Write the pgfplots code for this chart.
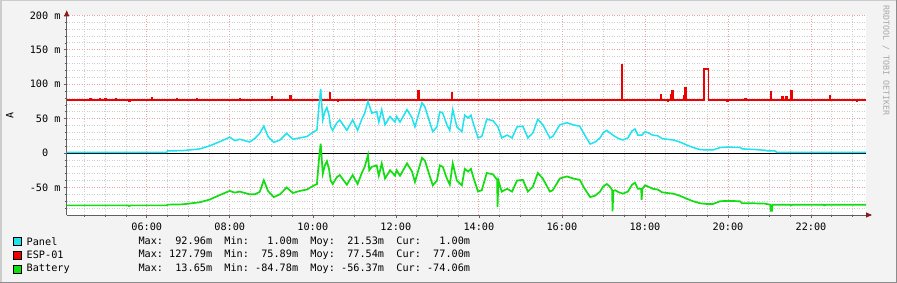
\documentclass[border=0pt]{standalone}
\usepackage{pgfplots}
\pgfplotsset{compat=1.18}
\usepackage{fontspec}
\setmainfont{DejaVu Sans Mono}
\usetikzlibrary{arrows.meta}
\definecolor{bgc}{HTML}{F3F3F3}
\definecolor{panelc}{HTML}{1DE3EF}
\definecolor{espc}{HTML}{EE0000}
\definecolor{batc}{HTML}{11DD11}
\definecolor{mgridc}{HTML}{E9A5A5}
\definecolor{ngridc}{HTML}{CDCDCD}
\definecolor{arrowc}{HTML}{8B1A1A}
\definecolor{axc}{HTML}{606060}
\definecolor{wmc}{HTML}{A8A8A8}
\newcommand{\fs}{\fontsize{10.2bp}{12bp}\selectfont}

\pgfplotstableread{
h v
4.07 1.0
6.48 1.0
6.50 3
6.87 3.5
7.28 6
7.52 10.5
7.76 16.5
8.00 23
8.12 18
8.24 20
8.48 16
8.60 21
8.72 28.5
8.82 39
8.92 24
9.06 15.5
9.21 19
9.37 28.5
9.52 20
9.69 22
9.86 24
10.00 30
10.10 33.5
10.15 70
10.19 93
10.24 48
10.29 60
10.34 66
10.39 55
10.43 38
10.48 33
10.58 44
10.65 48
10.82 33
10.96 48
11.08 33
11.18 49
11.25 58
11.33 75
11.42 58
11.54 60
11.59 45
11.66 63
11.74 41
11.86 53
11.98 45
12.02 53
12.10 45
12.27 63
12.39 51
12.46 38
12.63 73
12.70 67
12.82 44
12.89 31
12.99 38
13.06 60
13.13 58
13.23 41
13.30 33
13.37 63
13.47 38
13.59 31
13.66 55
13.74 51
13.81 55
13.86 44
13.98 22
14.07 24
14.19 49
14.34 47
14.46 38
14.55 22
14.68 26
14.80 22
14.92 38
15.06 39
15.18 22
15.30 29
15.42 49
15.54 41
15.71 22
15.78 24
15.95 41
16.12 44
16.27 41
16.43 39
16.55 26
16.68 13
16.80 16
16.92 22
16.99 29
17.08 33
17.16 29
17.28 24
17.37 21
17.47 19
17.59 22
17.69 32
17.76 35
17.83 26
17.93 26
18.00 31
18.07 29.5
18.19 26
18.31 25
18.41 21
18.53 20
18.68 19
18.84 16
19.01 11.6
19.16 8
19.33 5
19.49 4.4
19.64 4.4
19.81 8
19.98 8.5
20.29 8.2
20.34 6
20.60 5.3
20.89 4
20.95 3
21.13 3
21.18 1.0
23.325 1.0
}\panel

\pgfplotstableread{
h v
4.07 -76
5.55 -76
5.57 -77
5.62 -76
6.48 -76
6.50 -75
6.87 -74.5
7.28 -71.5
7.52 -67.5
7.76 -61
8.00 -55
8.12 -57.5
8.24 -56
8.48 -60
8.60 -60
8.72 -56.5
8.82 -39.5
8.92 -55
9.06 -64
9.21 -60
9.37 -50
9.52 -58
9.69 -55
9.86 -53
10.00 -48
10.10 -45
10.15 -8
10.19 13.6
10.24 -30
10.29 -18
10.34 -12
10.39 -23
10.43 -40
10.48 -45
10.58 -35
10.65 -32
10.82 -46
10.96 -32
11.08 -45
11.18 -29
11.25 -20
11.33 -3
11.36 -25
11.42 -20
11.54 -18
11.59 -33
11.66 -15
11.74 -37
11.86 -25
11.98 -33
12.02 -25
12.10 -33
12.27 -15
12.39 -27
12.46 -42
12.63 -7
12.70 -11
12.82 -34
12.89 -47
12.99 -40
13.06 -18
13.13 -20
13.23 -37
13.30 -46
13.37 -15
13.47 -40
13.59 -47
13.66 -23
13.74 -27
13.81 -23
13.86 -34
13.98 -56
14.07 -54
14.19 -29
14.34 -31
14.44 -39
14.45 -78
14.47 -40
14.55 -56
14.68 -52
14.80 -56
14.92 -40
15.06 -39
15.18 -56
15.30 -49
15.42 -29
15.54 -37
15.71 -56
15.78 -54
15.95 -37
16.12 -34
16.27 -37
16.43 -39
16.55 -52
16.68 -64
16.80 -62
16.92 -56
16.99 -49
17.08 -45
17.16 -49
17.21 -54
17.22 -84.8
17.24 -55
17.28 -54
17.37 -57
17.47 -59
17.59 -56
17.69 -46
17.76 -43
17.83 -52
17.91 -52
17.92 -68
17.94 -52
18.00 -47
18.07 -48.5
18.19 -52
18.31 -53
18.41 -57
18.53 -58
18.68 -59
18.84 -62
19.01 -66.5
19.16 -70
19.33 -73
19.49 -74
19.64 -74
19.81 -70
19.98 -69.5
20.29 -70
20.34 -73
20.60 -73
20.89 -73.5
21.02 -75
21.03 -84
21.06 -84
21.07 -75
21.50 -75
21.52 -76
21.56 -75
22.30 -75
22.32 -76
22.36 -75
23.325 -75
}\battery

\pgfplotstableread{
h v
4.07 77.5
4.64 77.5
4.64 79
4.66 79
4.66 77.5
4.86 77.5
4.86 79
4.88 79
4.88 77.5
5.00 77.5
5.00 79
5.02 79
5.02 77.5
5.25 77.5
5.25 79
5.27 79
5.27 77.5
5.58 77.5
5.58 75.5
5.60 75.5
5.60 77.5
6.12 77.5
6.12 80
6.14 80
6.14 77.5
6.72 77.5
6.72 79
6.74 79
6.74 77.5
7.20 77.5
7.20 79
7.22 79
7.22 77.5
8.24 77.5
8.24 79
8.26 79
8.26 77.5
9.01 77.5
9.01 82
9.03 82
9.03 77.5
9.45 77.5
9.45 83
9.47 83
9.47 77.5
10.40 77.5
10.40 87
10.42 87
10.42 77.5
10.60 77.5
10.60 76
10.62 76
10.62 77.5
12.54 77.5
12.54 90
12.56 90
12.56 77.5
13.34 77.5
13.34 88
13.36 88
13.36 77.5
17.44 77.5
17.44 127.8
17.46 127.8
17.46 77.5
18.38 77.5
18.38 85
18.40 85
18.40 77.5
18.55 77.5
18.55 76
18.57 76
18.57 77.5
18.62 77.5
18.62 84
18.65 84
18.65 90
18.67 90
18.67 77.5
18.94 77.5
18.94 83
18.97 83
18.97 95
18.99 95
18.99 77.5
19.43 77.5
19.43 122.5
19.53 122.5
19.53 77.5
19.98 77.5
19.98 75.5
20.00 75.5
20.00 77.5
20.41 77.5
20.41 79
20.43 79
20.43 77.5
21.03 77.5
21.03 89
21.05 89
21.05 77.5
21.30 77.5
21.30 81
21.32 81
21.32 77.5
21.40 77.5
21.40 81
21.42 81
21.42 77.5
21.52 77.5
21.52 90
21.54 90
21.54 77.5
22.45 77.5
22.45 83
22.47 83
22.47 77.5
23.10 77.5
23.10 76
23.12 76
23.12 77.5
23.325 77.5
}\esp

\begin{document}
\begin{tikzpicture}
\fill[bgc] (0,0) rectangle (897bp,283bp);
\useasboundingbox (0,0) rectangle (897bp,283bp);
\draw[line width=1.5bp, color=black!20] (0.75bp,0) -- (0.75bp,282.25bp) -- (897bp,282.25bp);
\draw[line width=1.5bp, color=black!45] (0,0.75bp) -- (896.25bp,0.75bp) -- (896.25bp,283bp);
\begin{axis}[
  at={(66.7bp,68bp)}, anchor=south west,
  scale only axis, width=799.3bp, height=199.7bp,
  xmin=4.072, xmax=23.325, ymin=-90, ymax=200,
  axis background/.style={fill=white},
  axis lines=left,
  x axis line style={draw=axc, line width=0.8bp, shorten >=-6bp, -{Triangle[length=6bp,width=5bp,color=arrowc]}},
  y axis line style={draw=axc, line width=0.8bp, shorten >=-5bp, -{Triangle[length=6bp,width=5bp,color=arrowc]}},
  xtick={6,8,10,12,14,16,18,20,22},
  xticklabels={06:00,08:00,10:00,12:00,14:00,16:00,18:00,20:00,22:00},
  minor xtick={4.5,5,5.5,6.5,7,7.5,8.5,9,9.5,10.5,11,11.5,12.5,13,13.5,14.5,15,15.5,16.5,17,17.5,18.5,19,19.5,20.5,21,21.5,22.5,23},
  ytick={-50,0,50,100,150,200},
  yticklabels={-50 m,0\phantom{ m},50 m,100 m,150 m,200 m},
  minor ytick={-80,-70,-60,-40,-30,-20,-10,10,20,30,40,60,70,80,90,110,120,130,140,160,170,180,190},
  tick align=outside,
  major tick length=3bp, minor tick length=2bp,
  every tick/.style={axc, line width=0.6bp},
  grid=both,
  major grid style={mgridc, line width=0.8bp, dash pattern=on 1bp off 1.5bp},
  minor grid style={ngridc, line width=0.8bp, dash pattern=on 1bp off 1.5bp},
  tick label style={font=\fs, text=black},
  xticklabel style={yshift=-1bp},
  yticklabel style={anchor=east, inner sep=0pt, xshift=-3bp},
  ylabel={A},
  ylabel style={font=\fs},
  every axis y label/.style={at={(rel axis cs:0,0.5)}, xshift=-57bp, rotate=90, anchor=center},
  clip=true,
]
\addplot[draw=black, line width=1bp] coordinates {(4.072,-0.3) (23.325,-0.3)};
\addplot[draw=espc, color=espc, line width=1.8bp] table[x=h,y=v] {\esp};
\addplot[draw=panelc, line width=1.5bp] table[x=h,y=v] {\panel};
\addplot[draw=batc, line width=1.7bp] table[x=h,y=v] {\battery};
\end{axis}
% vertical watermark
\node[font=\fontsize{8.3bp}{10bp}\selectfont, text=wmc, rotate=-90, anchor=west, inner sep=0pt] at (886bp,278bp) {RRDTOOL / TOBI OETIKER};
% legend
\foreach \yy/\cc/\nn/\tt in {
  41.5/panelc/Panel/{Max:~~92.96m~~Min:~~~1.00m~~Moy:~~21.53m~~Cur:~~~1.00m},
  28/espc/ESP-01/{Max:~127.79m~~Min:~~75.89m~~Moy:~~77.54m~~Cur:~~77.00m},
  14/batc/Battery/{Max:~~13.65m~~Min:~-84.78m~~Moy:~-56.37m~~Cur:~-74.06m}} {
  \filldraw[fill=\cc, draw=black, line width=0.8bp] (13.5bp,\yy bp-4bp) rectangle (21.5bp,\yy bp+4bp);
  \node[font=\fs, anchor=west, inner sep=0pt] at (26.5bp,\yy bp) {\nn};
  \node[font=\fs, anchor=west, inner sep=0pt] at (138.3bp,\yy bp) {\tt};
}
\end{tikzpicture}
\end{document}
